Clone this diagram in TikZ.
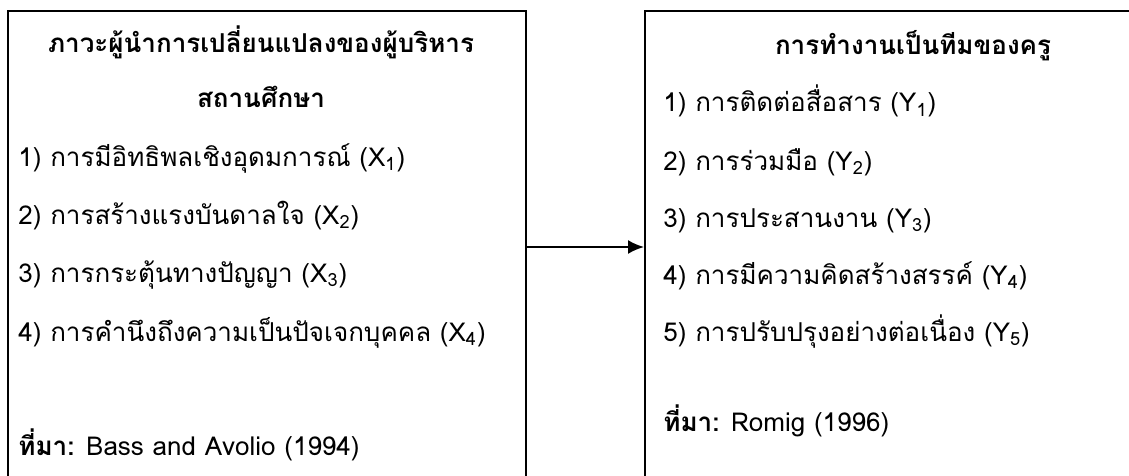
\documentclass[tikz,border=0pt]{standalone}
\usepackage{fontspec}
\newfontfamily\thaifont[Script=Thai]{Loma}
\usetikzlibrary{arrows.meta,positioning}
\tikzset{panel/.style={draw=black, line width=1pt, inner sep=0pt, anchor=north west},
    item/.style={anchor=base west, inner sep=0pt, font=\thaifont\fontsize{13}{15}\selectfont},
    head/.style={anchor=base, inner sep=0pt, font=\thaifont\bfseries\fontsize{13}{15}\selectfont},
    link/.style={line width=1pt, -{Latex[length=8pt,width=7pt]}}}
\begin{document}
\begin{tikzpicture}[x=0.5pt, y=-0.5pt]
                        \clip (0, 0) rectangle (1129, 476);

                        \node[panel, minimum width=259pt, minimum height=250pt] (lbox) at (7, 10) {};
                        \node[panel, minimum width=269pt, minimum height=250pt] (rbox) at (644, 10) {};

                        \node[head] (lhead) at (261, 53) {ภาวะผู้นำการเปลี่ยนแปลงของผู้บริหาร};
                        \node[head] (lhead2) at (261, 108) {สถานศึกษา};
                        \node[item] (x1) at (18, 166) {1) การมีอิทธิพลเชิงอุดมการณ์ (X\textsubscript{1})};
                        \node[item] (x2) at (18, 224) {2) การสร้างแรงบันดาลใจ (X\textsubscript{2})};
                        \node[item] (x3) at (18, 282) {3) การกระตุ้นทางปัญญา (X\textsubscript{3})};
                        \node[item] (x4) at (18, 341) {4) การคำนึงถึงความเป็นปัจเจกบุคคล (X\textsubscript{4})};
                        \node[item] (lsrc) at (18, 455) {\textbf{ที่มา:} Bass and Avolio (1994)};

                        \node[head] (rhead) at (913, 55) {การทำงานเป็นทีมของครู};
                        \node[item] (y1) at (663, 112) {1) การติดต่อสื่อสาร (Y\textsubscript{1})};
                        \node[item] (y2) at (663, 170) {2) การร่วมมือ (Y\textsubscript{2})};
                        \node[item] (y3) at (663, 227) {3) การประสานงาน (Y\textsubscript{3})};
                        \node[item] (y4) at (663, 284) {4) การมีความคิดสร้างสรรค์ (Y\textsubscript{4})};
                        \node[item] (y5) at (663, 341) {5) การปรับปรุงอย่างต่อเนื่อง (Y\textsubscript{5})};
                        \node[item] (rsrc) at (663, 431) {\textbf{ที่มา:} Romig (1996)};

                        \coordinate (mid) at (0, 247);
                        \draw[link] (lbox.east |- mid) -- (rbox.west |- mid);
                    \end{tikzpicture}
\end{document}
